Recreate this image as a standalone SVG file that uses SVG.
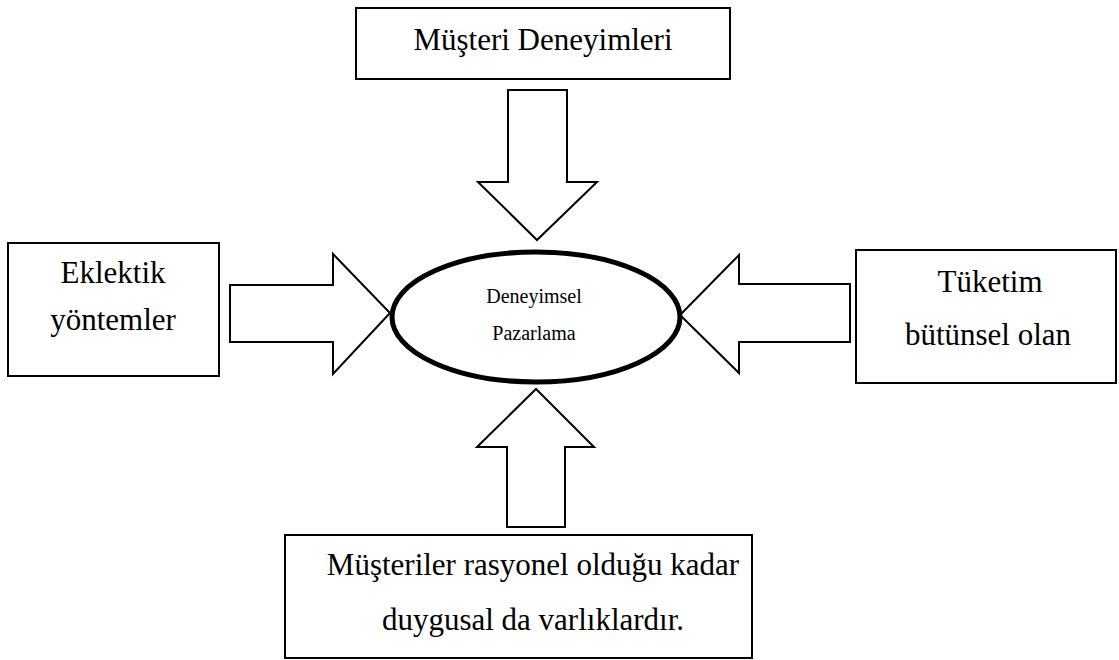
<svg xmlns="http://www.w3.org/2000/svg" width="1119" height="660" viewBox="0 0 1119 660">
  <style>
    .box { fill: #ffffff; stroke: #000000; stroke-width: 2; }
    .arrow { fill: #ffffff; stroke: #000000; stroke-width: 2; stroke-linejoin: miter; }
    .core { fill: #ffffff; stroke: #000000; stroke-width: 5; }
    .label { font-family: "Liberation Serif", "Times New Roman", serif; font-size: 31px; fill: #000000; text-anchor: middle; }
    .small { font-size: 20px; }
  </style>
  <rect width="1119" height="660" fill="#ffffff"/>

  <!-- block arrows pointing at the centre -->
  <g id="connectors">
    <polygon class="arrow" points="508,90 567,90 567,182 597,182 537,240 478,182 508,182"/>
    <polygon class="arrow" points="230,285 333,285 333,254 390,313 333,374 333,342 230,342"/>
    <polygon class="arrow" points="850,284 739,284 739,255 680,315 739,373 739,342 850,342"/>
    <polygon class="arrow" points="507,527 565,527 565,447 594,447 536,389 477,447 507,447"/>
  </g>

  <g id="node-center">
    <ellipse class="core" cx="536" cy="317" rx="144" ry="65"/>
    <text class="label small" x="534" y="303">Deneyimsel</text>
    <text class="label small" x="534" y="340">Pazarlama</text>
  </g>

  <g id="node-top">
    <rect class="box" x="356" y="8" width="374" height="71"/>
    <text class="label" x="543" y="50">Müşteri Deneyimleri</text>
  </g>

  <g id="node-left">
    <rect class="box" x="8" y="243" width="211" height="133"/>
    <text class="label" x="113" y="283">Eklektik</text>
    <text class="label" x="113" y="330">yöntemler</text>
  </g>

  <g id="node-right">
    <rect class="box" x="856" y="250" width="260" height="133"/>
    <text class="label" x="990" y="292">Tüketim</text>
    <text class="label" x="988" y="345">bütünsel olan</text>
  </g>

  <g id="node-bottom">
    <rect class="box" x="285" y="535" width="467" height="123"/>
    <text class="label" x="533" y="575">Müşteriler rasyonel olduğu kadar</text>
    <text class="label" x="533" y="630">duygusal da varlıklardır.</text>
  </g>
</svg>
